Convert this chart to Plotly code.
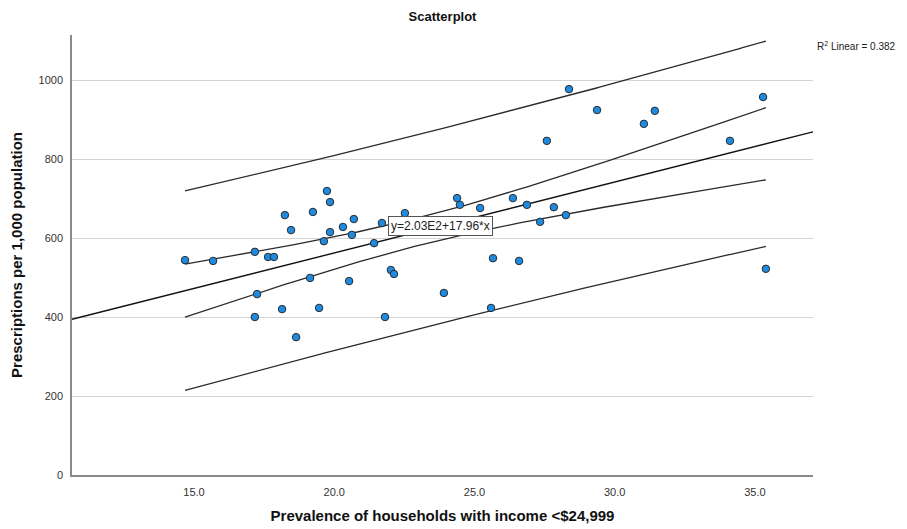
import numpy as np
import plotly.graph_objects as go

income_pct = [14.68, 15.68, 17.17, 17.25, 17.17, 17.64, 17.85, 18.24, 18.46, 18.14,
              18.64, 19.14, 19.24, 19.46, 19.63, 19.74, 19.85, 19.85, 20.31, 20.53,
              20.63, 20.70, 21.42, 21.70, 22.02, 21.81, 22.13, 22.52, 23.91, 24.38,
              24.48, 25.20, 25.66, 25.59, 26.37, 26.59, 26.87, 27.34, 27.58, 27.83,
              28.26, 28.37, 29.37, 31.04, 31.43, 34.11, 35.29, 35.39]
prescriptions = [544, 542, 565, 458, 400, 552, 552, 658, 620, 420,
                 349, 499, 666, 423, 592, 719, 691, 615, 628, 491,
                 608, 648, 587, 638, 519, 400, 509, 663, 461, 701,
                 684, 676, 549, 423, 701, 542, 684, 641, 846, 678,
                 658, 977, 924, 889, 922, 846, 957, 522]

# Fit as stated in the chart
intercept = 203.0
slope = 17.96
r2_text = "R<sup>2</sup> Linear = 0.382"
eq_text = "y=2.03E2+17.96*x"

x_range = [10.65, 37.07]
y_range = [0, 1114]
y_ticks = [0, 200, 400, 600, 800, 1000]
x_ticks = [15, 20, 25, 30, 35]
x_tick_text = ["15.0", "20.0", "25.0", "30.0", "35.0"]

x = np.array(income_pct, dtype=float)
y = np.array(prescriptions, dtype=float)
n = len(x)
resid = y - (intercept + slope * x)
s = np.sqrt(np.sum(resid ** 2) / (n - 2))
sxx = np.sum((x - x.mean()) ** 2)
t_crit = 2.0129  # t(0.975, df=46)

xs = np.linspace(x.min(), x.max(), 200)
fit_xs = intercept + slope * xs
se_mean = s * np.sqrt(1.0 / n + (xs - x.mean()) ** 2 / sxx)
se_pred = s * np.sqrt(1.0 + 1.0 / n + (xs - x.mean()) ** 2 / sxx)

xl = np.array(x_range)
fit_line = intercept + slope * xl

fig = go.Figure()
line_style = dict(color="#2a2a2a", width=1.3)
for band in [fit_xs + t_crit * se_pred, fit_xs - t_crit * se_pred,
             fit_xs + t_crit * se_mean, fit_xs - t_crit * se_mean]:
    fig.add_trace(go.Scatter(x=xs, y=band, mode="lines", line=line_style,
                             hoverinfo="skip", showlegend=False))
fig.add_trace(go.Scatter(x=xl, y=fit_line, mode="lines",
                         line=dict(color="#111111", width=1.4),
                         hoverinfo="skip", showlegend=False))
fig.add_trace(go.Scatter(x=income_pct, y=prescriptions, mode="markers",
                         marker=dict(size=7.5, color="#1f8be0",
                                     line=dict(color="#2b2b2b", width=1)),
                         showlegend=False))

fig.add_annotation(x=21.92, y=630, xref="x", yref="y", text=eq_text,
                   showarrow=False, xanchor="left", yanchor="middle",
                   font=dict(family="Liberation Sans, Arial", size=12, color="#222"),
                   bgcolor="white", bordercolor="#555", borderwidth=1, borderpad=2)
fig.add_annotation(x=1.003, y=0.975, xref="paper", yref="paper", text=r2_text,
                   showarrow=False, xanchor="left", yanchor="middle",
                   font=dict(family="Liberation Sans, Arial", size=10, color="#222"))

# The page places the figure 8px from the top-left corner
fig.update_layout(
    width=899, height=521,
    margin=dict(l=64, r=94, t=27, b=54, autoexpand=False),
    paper_bgcolor="white", plot_bgcolor="white",
    font=dict(family="Liberation Sans, Arial", color="#222"),
    title=dict(text="<b>Scatterplot</b>", x=0.5, xref="paper", xanchor="center",
               y=1 - 8 / 521, yref="container", yanchor="middle",
               font=dict(size=13, color="#111")),
)
fig.update_xaxes(range=x_range, tickvals=x_ticks, ticktext=x_tick_text,
                 showgrid=False, zeroline=False, showline=True, automargin=False,
                 linecolor="#8a8a8a", linewidth=1.5, ticks="",
                 ticklabelstandoff=6,
                 tickfont=dict(size=11, color="#333"),
                 title=dict(text="<b>Prevalence of households with income <$24,999</b>",
                            font=dict(size=15, color="#111"), standoff=14))
fig.update_yaxes(range=y_range, tickvals=y_ticks,
                 showgrid=True, gridcolor="#d4d4d4", gridwidth=1,
                 zeroline=False, showline=True, automargin=False,
                 linecolor="#8a8a8a", linewidth=1.5, ticks="",
                 ticklabelstandoff=5,
                 tickfont=dict(size=11, color="#333"),
                 title=dict(text="<b>Prescriptions per 1,000 population</b>",
                            font=dict(size=15, color="#111"), standoff=12))

fig.write_html("out.html")
